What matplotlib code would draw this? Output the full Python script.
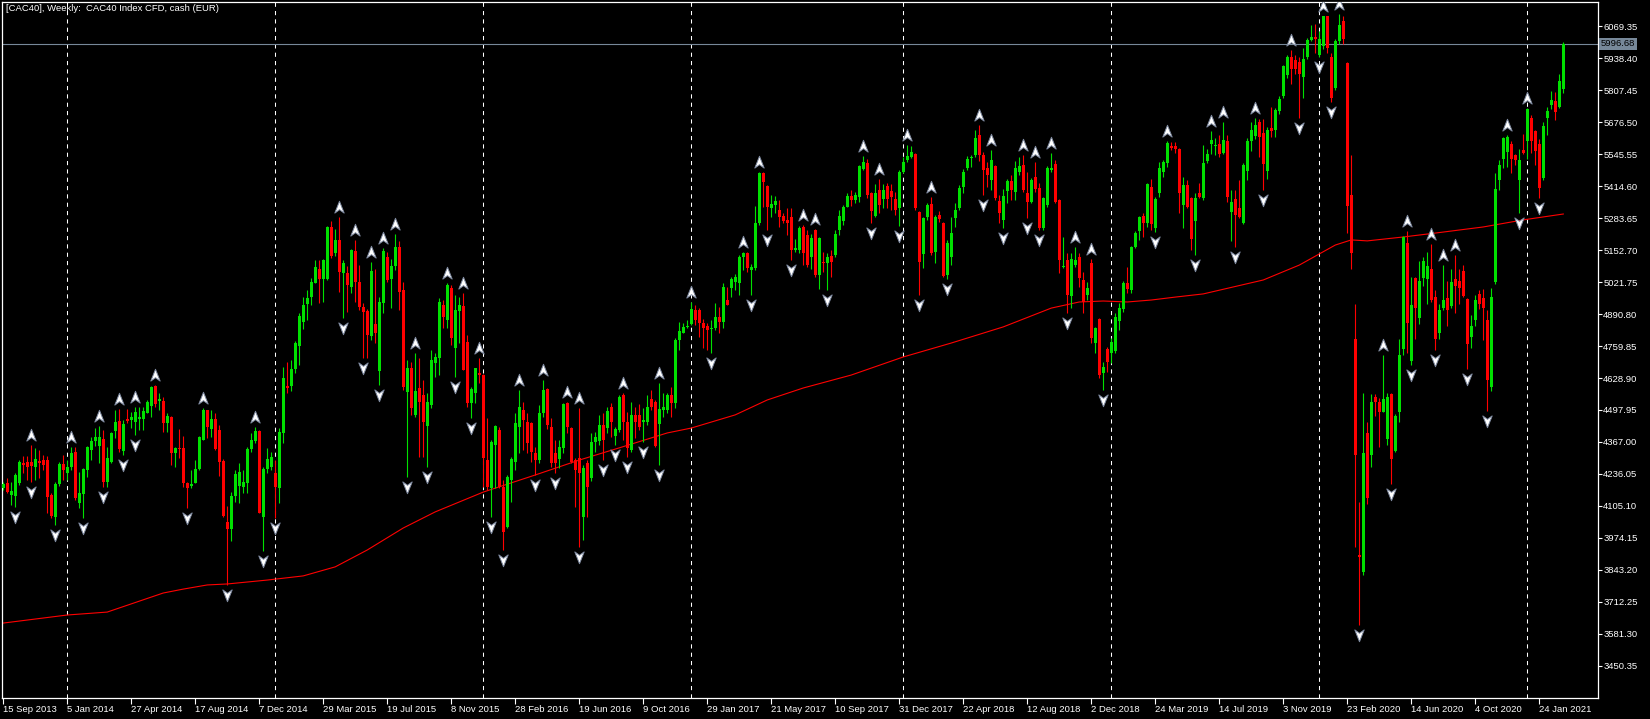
import numpy as np
import pandas as pd
import matplotlib
matplotlib.use("Agg")
import matplotlib.pyplot as plt
from matplotlib.path import Path
from matplotlib.transforms import offset_copy, blended_transform_factory

plt.rcParams['font.family'] = ['Liberation Sans', 'DejaVu Sans']

# weekly CAC40 candles, first bar = week of 15 Sep 2013
start_date = '2013-09-15'
title = '[CAC40], Weekly:  CAC40 Index CFD, cash (EUR)'
last_price = 5996.68

opens = [
    4177, 4198, 4150, 4146, 4198, 4282, 4287, 4287, 4263, 4291,
    4293, 4293, 4150, 4061, 4195, 4277, 4239, 4263, 4327, 4116,
    4154, 4252, 4334, 4372, 4351, 4378, 4205, 4286, 4413, 4454,
    4332, 4460, 4457, 4450, 4460, 4460, 4487, 4514, 4596, 4535,
    4536, 4443, 4471, 4323, 4341, 4341, 4201, 4187, 4201, 4255,
    4375, 4498, 4419, 4460, 4416, 4291, 4041, 4010, 4146, 4187,
    4181, 4198, 4337, 4371, 4413, 4061, 4255, 4266, 4241, 4177,
    4405, 4596, 4596, 4664, 4760, 4859, 4932, 4962, 5019, 5074,
    5033, 5033, 5248, 5142, 5194, 5060, 5060, 5000, 5149, 5023,
    4921, 4904, 4801, 4850, 4659, 4934, 5125, 5033, 5087, 5166,
    4989, 4573, 4668, 4477, 4587, 4559, 4432, 4518, 4692, 4709,
    4928, 4866, 4996, 4750, 4904, 4923, 4778, 4525, 4566, 4651,
    4641, 4293, 4177, 4355, 4416, 4184, 4020, 4211, 4286, 4430,
    4498, 4450, 4443, 4323, 4293, 4484, 4582, 4430, 4321, 4296,
    4341, 4528, 4423, 4293, 4300, 4061, 4280, 4218, 4368, 4372,
    4437, 4423, 4509, 4392, 4416, 4559, 4450, 4334, 4477, 4477,
    4450, 4450, 4542, 4532, 4441, 4498, 4498, 4559, 4525, 4784,
    4814, 4836, 4850, 4907, 4907, 4855, 4842, 4828, 4832, 4877,
    4859, 4948, 4996, 5023, 5016, 5123, 5139, 5071, 5078, 5262,
    5469, 5415, 5323, 5337, 5316, 5292, 5275, 5289, 5153, 5153,
    5248, 5214, 5125, 5235, 5050, 5105, 5098, 5128, 5132, 5235,
    5273, 5330, 5374, 5357, 5371, 5483, 5510, 5385, 5292, 5398,
    5360, 5415, 5396, 5360, 5323, 5473, 5521, 5535, 5546, 5310,
    5136, 5286, 5341, 5146, 5296, 5262, 5050, 5125, 5282, 5323,
    5412, 5487, 5528, 5541, 5623, 5541, 5487, 5439, 5497, 5355,
    5276, 5396, 5436, 5391, 5473, 5501, 5385, 5350, 5450, 5405,
    5241, 5337, 5480, 5505, 5357, 5085, 5112, 4964, 5091, 5125,
    5030, 4969, 5098, 4771, 4869, 4648, 4746, 4730, 4741, 4864,
    4910, 5019, 4989, 5166, 5232, 5292, 5262, 5409, 5241, 5387,
    5473, 5507, 5578, 5578, 5565, 5337, 5419, 5364, 5273, 5385,
    5366, 5516, 5588, 5578, 5588, 5549, 5599, 5307, 5361, 5324,
    5265, 5474, 5600, 5621, 5678, 5633, 5478, 5650, 5645, 5721,
    5783, 5867, 5942, 5929, 5922, 5862, 5942, 6012, 6025, 5950,
    5989, 6109, 5942, 5817, 6009, 6089, 5917, 5377, 4789, 3904,
    3837, 4405, 4313, 4552, 4531, 4489, 4380, 4564, 4330, 4489,
    4748, 5182, 4697, 5040, 4873, 5040, 5032, 5077, 4960, 4814,
    4915, 4956, 4923, 5032, 5027, 5065, 4953, 4798, 4865, 4973,
    4956, 4865, 4592, 5023, 5438, 5524, 5554, 5588, 5541, 5438,
    5561, 5599, 5691, 5638, 5588, 5449, 5691, 5745, 5762, 5738,
    5812,
]

highs = [
    4205, 4218, 4205, 4239, 4293, 4310, 4310, 4355, 4341, 4334,
    4312, 4310, 4157, 4205, 4287, 4314, 4293, 4348, 4348, 4246,
    4259, 4351, 4386, 4423, 4432, 4416, 4348, 4409, 4498, 4501,
    4457, 4501, 4491, 4512, 4512, 4512, 4539, 4596, 4600, 4566,
    4553, 4484, 4473, 4348, 4419, 4392, 4205, 4252, 4293, 4392,
    4508, 4498, 4498, 4484, 4437, 4296, 4105, 4164, 4252, 4280,
    4252, 4348, 4402, 4430, 4416, 4266, 4341, 4327, 4293, 4423,
    4675, 4696, 4703, 4782, 4894, 4962, 4989, 5037, 5112, 5112,
    5115, 5251, 5273, 5237, 5289, 5112, 5087, 5155, 5194, 5091,
    4934, 4910, 5105, 5074, 4959, 5160, 5146, 5115, 5218, 5190,
    5023, 4703, 4696, 4730, 4709, 4621, 4566, 4743, 4730, 4955,
    4948, 5016, 5009, 4969, 4962, 4975, 4805, 4593, 4668, 4709,
    4645, 4464, 4375, 4437, 4430, 4212, 4232, 4307, 4484, 4580,
    4532, 4484, 4450, 4348, 4518, 4621, 4587, 4464, 4375, 4375,
    4525, 4532, 4430, 4300, 4505, 4273, 4293, 4402, 4409, 4477,
    4484, 4512, 4525, 4430, 4559, 4566, 4491, 4532, 4512, 4522,
    4505, 4559, 4580, 4539, 4607, 4566, 4569, 4593, 4791, 4859,
    4853, 4866, 4941, 4928, 4914, 4869, 4853, 4866, 4937, 4921,
    5016, 5003, 5044, 5054, 5132, 5146, 5146, 5095, 5333, 5473,
    5473, 5419, 5378, 5374, 5357, 5306, 5323, 5323, 5196, 5251,
    5255, 5235, 5218, 5237, 5207, 5146, 5139, 5153, 5235, 5316,
    5337, 5387, 5398, 5391, 5501, 5537, 5524, 5391, 5423, 5442,
    5423, 5428, 5423, 5391, 5480, 5535, 5582, 5578, 5548, 5314,
    5286, 5346, 5371, 5296, 5314, 5269, 5194, 5286, 5344, 5419,
    5483, 5537, 5541, 5644, 5664, 5555, 5514, 5562, 5501, 5378,
    5401, 5442, 5460, 5518, 5535, 5541, 5473, 5446, 5514, 5426,
    5371, 5496, 5548, 5521, 5360, 5207, 5139, 5139, 5166, 5139,
    5064, 5023, 5115, 4836, 4873, 4696, 4754, 4791, 4894, 4934,
    5027, 5085, 5169, 5232, 5292, 5303, 5426, 5442, 5371, 5514,
    5521, 5600, 5596, 5596, 5569, 5450, 5439, 5368, 5387, 5426,
    5583, 5566, 5638, 5611, 5625, 5675, 5625, 5399, 5399, 5441,
    5508, 5611, 5675, 5691, 5688, 5688, 5658, 5738, 5733, 5783,
    5908, 5950, 5972, 5950, 5942, 5979, 6022, 6072, 6076, 6050,
    6112, 6109, 5959, 6017, 6117, 6109, 5922, 5541, 4931, 4121,
    4569, 4447, 4564, 4564, 4547, 4723, 4569, 4569, 4480, 4789,
    5210, 5232, 5043, 5043, 5107, 5123, 5144, 5177, 4987, 4931,
    5093, 5027, 5077, 5132, 5077, 5093, 4956, 4886, 4970, 4990,
    4993, 4906, 4998, 5466, 5521, 5616, 5625, 5600, 5544, 5566,
    5628, 5733, 5705, 5645, 5608, 5675, 5738, 5805, 5800, 5875,
    6003,
]

lows = [
    4171, 4157, 4109, 4102, 4191, 4239, 4212, 4205, 4212, 4221,
    4252, 4078, 4055, 4027, 4187, 4212, 4212, 4252, 4130, 4096,
    4055, 4225, 4293, 4351, 4280, 4181, 4184, 4280, 4382, 4327,
    4314, 4443, 4423, 4396, 4416, 4416, 4484, 4468, 4512, 4498,
    4409, 4409, 4273, 4266, 4300, 4184, 4096, 4177, 4198, 4252,
    4375, 4382, 4389, 4334, 4228, 4061, 3782, 3963, 4123, 4116,
    4157, 4157, 4327, 4362, 4075, 3922, 4239, 4252, 4055, 4116,
    4362, 4566, 4577, 4648, 4682, 4828, 4866, 4928, 5016, 4934,
    4941, 5030, 5119, 5128, 4982, 4873, 4900, 4975, 4941, 4907,
    4709, 4709, 4784, 4771, 4600, 4896, 5023, 4914, 5071, 4907,
    4580, 4225, 4477, 4471, 4307, 4307, 4266, 4505, 4634, 4641,
    4832, 4832, 4764, 4634, 4771, 4662, 4512, 4464, 4525, 4607,
    4184, 4171, 4061, 4177, 4177, 3925, 4014, 4123, 4252, 4321,
    4334, 4321, 4286, 4232, 4280, 4471, 4419, 4266, 4239, 4259,
    4321, 4402, 4280, 4102, 3939, 3966, 4061, 4209, 4327, 4355,
    4293, 4402, 4389, 4355, 4409, 4375, 4307, 4327, 4382, 4416,
    4368, 4437, 4498, 4348, 4273, 4471, 4484, 4471, 4505, 4743,
    4812, 4832, 4846, 4846, 4798, 4750, 4743, 4733, 4825, 4812,
    4832, 4928, 4962, 4989, 4969, 5071, 5064, 4969, 5071, 5255,
    5330, 5235, 5289, 5303, 5248, 5262, 5214, 5112, 5146, 5139,
    5091, 5085, 5074, 5044, 4992, 5064, 4989, 5044, 5125, 5214,
    5255, 5327, 5333, 5344, 5350, 5480, 5364, 5265, 5289, 5305,
    5323, 5323, 5316, 5296, 5251, 5466, 5514, 5528, 5316, 4969,
    5078, 5275, 5132, 5101, 5269, 5044, 5033, 5091, 5245, 5316,
    5385, 5480, 5494, 5535, 5518, 5378, 5412, 5398, 5357, 5262,
    5241, 5344, 5357, 5357, 5460, 5391, 5282, 5344, 5391, 5235,
    5235, 5330, 5473, 5344, 5057, 5078, 4894, 4914, 5085, 5003,
    4894, 4948, 4771, 4730, 4628, 4580, 4655, 4689, 4730, 4825,
    4900, 4978, 4975, 5160, 5194, 5207, 5248, 5235, 5228, 5371,
    5450, 5491, 5562, 5548, 5303, 5241, 5323, 5153, 5132, 5364,
    5357, 5508, 5544, 5541, 5533, 5544, 5349, 5190, 5165, 5282,
    5260, 5441, 5558, 5608, 5533, 5399, 5444, 5616, 5616, 5708,
    5775, 5858, 5833, 5875, 5691, 5775, 5934, 6009, 5959, 5942,
    5975, 5959, 5758, 5808, 5995, 5995, 5224, 5077, 3938, 3620,
    3821, 4113, 4263, 4472, 4347, 4489, 4355, 4196, 4325, 4447,
    4723, 4731, 4681, 4789, 4848, 5007, 4931, 4940, 4743, 4789,
    4906, 4840, 4915, 4893, 4931, 4960, 4664, 4753, 4843, 4910,
    4786, 4492, 4576, 5015, 5399, 5488, 5491, 5466, 5499, 5304,
    5544, 5524, 5549, 5499, 5366, 5441, 5625, 5728, 5683, 5733,
    5795,
]

closes = [
    4195, 4164, 4168, 4232, 4287, 4273, 4266, 4269, 4296, 4282,
    4273, 4143, 4064, 4195, 4277, 4252, 4266, 4323, 4136, 4157,
    4255, 4345, 4372, 4386, 4389, 4205, 4300, 4405, 4450, 4337,
    4439, 4454, 4471, 4491, 4468, 4495, 4532, 4591, 4523, 4542,
    4446, 4473, 4323, 4341, 4337, 4201, 4177, 4195, 4255, 4386,
    4498, 4430, 4460, 4337, 4287, 4064, 4010, 4146, 4236, 4246,
    4205, 4337, 4375, 4412, 4078, 4255, 4296, 4307, 4181, 4407,
    4628, 4587, 4664, 4771, 4883, 4928, 4955, 5023, 5082, 5033,
    5112, 5248, 5128, 5194, 5064, 5098, 5010, 5153, 5022, 4921,
    4900, 4805, 5068, 4812, 4941, 5149, 5030, 5087, 5166, 4982,
    4593, 4668, 4505, 4577, 4532, 4450, 4532, 4703, 4713, 4941,
    4880, 5009, 4791, 4907, 4928, 4662, 4525, 4582, 4668, 4641,
    4300, 4184, 4368, 4432, 4184, 4000, 4222, 4296, 4443, 4512,
    4457, 4361, 4327, 4293, 4484, 4580, 4436, 4280, 4280, 4348,
    4522, 4430, 4286, 4252, 4239, 4259, 4184, 4368, 4389, 4437,
    4375, 4495, 4450, 4419, 4550, 4450, 4341, 4477, 4450, 4430,
    4457, 4512, 4512, 4351, 4501, 4512, 4559, 4525, 4784, 4822,
    4836, 4842, 4910, 4866, 4853, 4832, 4825, 4832, 4880, 4859,
    5003, 4928, 5033, 5044, 5125, 5139, 5078, 5085, 5262, 5469,
    5432, 5327, 5341, 5355, 5289, 5273, 5262, 5153, 5160, 5241,
    5139, 5091, 5200, 5050, 5200, 5098, 5125, 5105, 5218, 5292,
    5330, 5374, 5357, 5378, 5496, 5514, 5378, 5314, 5387, 5337,
    5398, 5360, 5368, 5316, 5473, 5514, 5537, 5555, 5323, 5105,
    5282, 5337, 5139, 5289, 5278, 5046, 5180, 5221, 5316, 5405,
    5473, 5524, 5535, 5610, 5541, 5480, 5460, 5521, 5364, 5306,
    5374, 5436, 5398, 5487, 5497, 5398, 5350, 5439, 5401, 5241,
    5364, 5487, 5487, 5350, 5112, 5087, 4969, 5115, 5112, 5037,
    4941, 4996, 4791, 4832, 4641, 4673, 4696, 4778, 4880, 4914,
    5019, 4992, 5164, 5224, 5289, 5265, 5423, 5259, 5360, 5487,
    5514, 5589, 5569, 5565, 5385, 5419, 5330, 5196, 5364, 5371,
    5508, 5544, 5604, 5583, 5544, 5604, 5371, 5349, 5294, 5287,
    5499, 5600, 5645, 5666, 5616, 5504, 5645, 5638, 5725, 5772,
    5905, 5942, 5895, 5895, 5875, 5934, 6012, 6025, 6017, 6017,
    6109, 5979, 5775, 6009, 6072, 6017, 5332, 5140, 4313, 3896,
    4322, 4138, 4531, 4531, 4489, 4542, 4552, 4297, 4472, 4723,
    5204, 4856, 4926, 4915, 5027, 5107, 5087, 4948, 4789, 4906,
    4948, 4906, 5023, 5007, 4998, 4965, 4769, 4840, 4948, 4931,
    4915, 4622, 4960, 5404, 5499, 5611, 5616, 5524, 5521, 5521,
    5549, 5728, 5599, 5558, 5407, 5661, 5721, 5767, 5716, 5845,
    5997,
]

# moving average
ma_bars = [0, 16, 26, 40, 45, 51, 56, 66, 75, 83, 91, 100, 108, 120, 133, 144,
           154, 166, 172, 183, 191, 200, 212, 225, 237, 250, 262, 269, 275, 281,
           287, 293, 300, 315, 324, 333, 337, 341, 350, 358, 370, 380, 390]
ma_values = [3626, 3659, 3671, 3749, 3765, 3782, 3786, 3802, 3819, 3856, 3925,
             4015, 4081, 4162, 4232, 4293, 4343, 4404, 4424, 4478, 4539, 4588,
             4641, 4715, 4772, 4838, 4915, 4940, 4944, 4940, 4948, 4960, 4973,
             5030, 5091, 5173, 5194, 5190, 5206, 5222, 5247, 5276, 5300]

price_ticks = [3450.35, 3581.30, 3712.25, 3843.20, 3974.15, 4105.10, 4236.05,
               4367.00, 4497.95, 4628.90, 4759.85, 4890.80, 5021.75, 5152.70,
               5283.65, 5414.60, 5545.55, 5676.50, 5807.45, 5938.40, 6069.35]

o = np.array(opens, float)
h = np.array(highs, float)
l = np.array(lows, float)
c = np.array(closes, float)
n = len(c)
x = np.arange(n)
dates = pd.date_range(start_date, periods=n, freq='W-SUN')

bull = '#00e000'
bear = '#ff0000'
cols = np.where(c >= o, bull, bear)

fig = plt.figure(figsize=(16.5, 7.19), dpi=100, facecolor='black')
ax = fig.add_axes([2 / 1650, 21.3 / 719, 1595.7 / 1650, 695.7 / 719])
ax.set_facecolor('black')

# year separators
yr = dates.year
for i in range(1, n):
    if yr[i] != yr[i - 1]:
        ax.axvline(i, color='white', lw=0.75, ls=(0, (4, 4)), zorder=1)

# moving average
ax.plot(ma_bars, ma_values, color='#ff0000', lw=0.8, zorder=2)

# candles
ax.vlines(x, l, h, colors=cols, lw=0.8, zorder=3)
body = np.maximum(np.abs(c - o), 3)
ax.bar(x, body, bottom=np.minimum(o, c), width=0.72, color=cols,
       linewidth=0, zorder=4)

# fractals
up = [i for i in range(2, n - 2)
      if h[i] > h[i - 1] and h[i] > h[i - 2] and h[i] >= h[i + 1] and h[i] >= h[i + 2]]
dn = [i for i in range(2, n - 2)
      if l[i] < l[i - 1] and l[i] < l[i - 2] and l[i] <= l[i + 1] and l[i] <= l[i + 2]]
up_path = Path([(0, 1), (0.75, -0.9), (0, -0.35), (-0.75, -0.9), (0, 1)],
               [Path.MOVETO, Path.LINETO, Path.LINETO, Path.LINETO, Path.CLOSEPOLY])
dn_path = Path([(0, -1), (0.75, 0.9), (0, 0.35), (-0.75, 0.9), (0, -1)],
               [Path.MOVETO, Path.LINETO, Path.LINETO, Path.LINETO, Path.CLOSEPOLY])
ax.plot(up, h[up], ls='none', marker=up_path, ms=9, mfc='white', mec='#7f8aa0',
        mew=0.7, transform=offset_copy(ax.transData, fig, x=0, y=10, units='dots'),
        zorder=5)
ax.plot(dn, l[dn], ls='none', marker=dn_path, ms=9, mfc='white', mec='#7f8aa0',
        mew=0.7, transform=offset_copy(ax.transData, fig, x=0, y=-10, units='dots'),
        zorder=5)

# current price line
ax.axhline(last_price, color='#778899', lw=0.8, zorder=2)

ax.set_xlim(-0.3, 398.6)
ax.set_ylim(3320.6, 6167.6)

ax.yaxis.tick_right()
ax.set_yticks(price_ticks)
ax.set_yticklabels(['%.2f' % v for v in price_ticks])
xt = list(range(0, n, 16))
ax.set_xticks(xt)
ax.set_xticklabels([f'{d.day} {d:%b %Y}' for d in dates[xt]])
for lab in ax.get_xticklabels():
    lab.set_horizontalalignment('left')
ax.tick_params(colors='white', labelsize=6.8, length=3, width=0.8, pad=1)
ax.tick_params(axis='x', length=4, pad=1.5)
for s in ax.spines.values():
    s.set_color('white')
    s.set_linewidth(0.9)

ax.text(1.002, last_price, '%.2f' % last_price,
        transform=blended_transform_factory(ax.transAxes, ax.transData),
        ha='left', va='center', fontsize=6.8, color='black', zorder=6,
        bbox=dict(facecolor='#778899', edgecolor='none', pad=1.2))

fig.text(6 / 1650, 1 - 4 / 719, title, color='white', fontsize=6.8,
         ha='left', va='top')

fig.savefig('out.png', dpi=100, facecolor='black')
